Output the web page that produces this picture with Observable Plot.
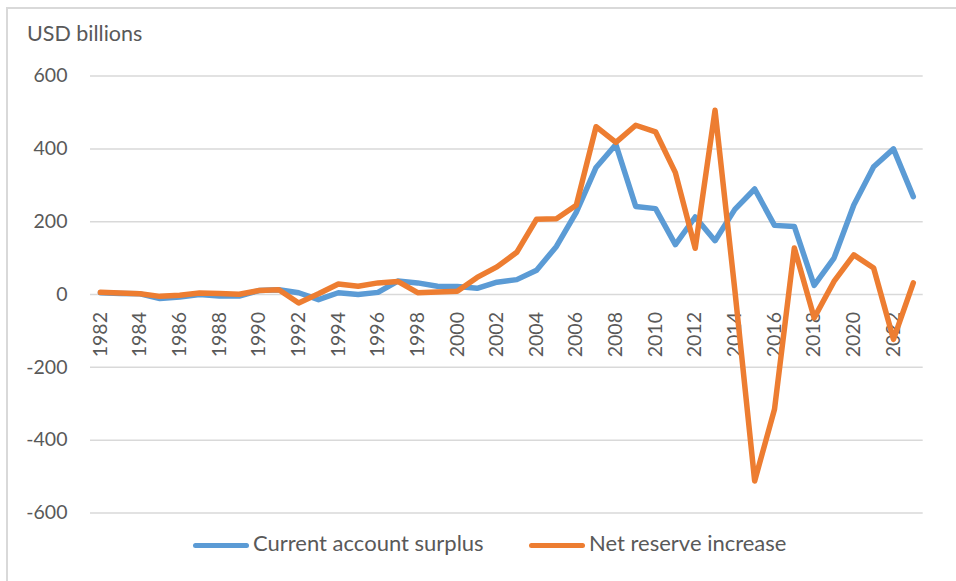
<!DOCTYPE html>
<html>
<head>
<meta charset="utf-8">
<script src="https://cdn.jsdelivr.net/npm/d3@7"></script>
<script src="https://cdn.jsdelivr.net/npm/@observablehq/plot@0.6"></script>
<style>
  body { margin: 0; background: #fff; font-family: Lato, "Open Sans", sans-serif; color: #595959; }
  #wrap { position: relative; width: 956px; height: 581px; overflow: hidden; background: #fff; }
  #frame { position: absolute; left: 6px; top: 7px; width: 1200px; height: 1200px;
           border-left: 2px solid #d9d9d9; border-top: 2px solid #d9d9d9; }
  #unit { position: absolute; left: 27px; top: 20.5px; font-size: 21.5px; line-height: 1.2; white-space: nowrap; }
  #chart { position: absolute; left: 0; top: 0; }
  .sw { position: absolute; height: 5px; border-radius: 2.5px; }
  .lt { position: absolute; font-size: 22px; line-height: 1.2; white-space: nowrap; }
</style>
</head>
<body>
<div id="wrap">
  <div id="frame"></div>
  <div id="chart"></div>
  <div id="unit">USD billions</div>
  <div id="legend"></div>
</div>
<script>
// ---- data ----
const years = [1982,1983,1984,1985,1986,1987,1988,1989,1990,1991,1992,1993,1994,1995,1996,1997,1998,1999,2000,2001,
               2002,2003,2004,2005,2006,2007,2008,2009,2010,2011,2012,2013,2014,2015,2016,2017,2018,2019,2020,2021,2022,2023];
const currentAccountSurplus = [5,3,2,-11,-7,0,-4,-4,11,13,5,-14,5,0,6,37,32,23,22,17,
                               34,41,67,132,226,349,412,242,236,137,213,148,234,290,190,187,25,100,246,351,400,269];
const netReserveIncrease = [6,4,2,-5,-2,4,3,1,11,13,-23,2,29,23,32,36,5,7,9,47,
                            76,116,207,208,245,461,418,465,447,335,127,506,12,-512,-315,128,-64,36,109,73,-123,32];
const seriesNames = ["Current account surplus", "Net reserve increase"];
const seriesColors = ["#5B9BD5", "#ED7D31"];
const yTicks = [600, 400, 200, 0, -200, -400, -600];
const xTickLabels = [1982,1984,1986,1988,1990,1992,1994,1996,1998,2000,2002,2004,2006,2008,2010,2012,2014,2016,2018,2020,2022];
const unitLabel = "USD billions";

// ---- build tables ----
const caRows = years.map((y, i) => ({year: y, value: currentAccountSurplus[i]}));
const nrRows = years.map((y, i) => ({year: y, value: netReserveIncrease[i]}));
const xMin = years[0] - 0.5, xMax = years[years.length - 1] + 0.5;

const chart = Plot.plot({
  width: 956,
  height: 530,
  marginLeft: 90,
  marginRight: 33.3,
  marginTop: 75.6,
  marginBottom: 17.5,
  x: {domain: [xMin, xMax], axis: null},
  y: {domain: [-600, 600], axis: null},
  style: {fontFamily: "Lato, 'Open Sans', sans-serif", background: "transparent", overflow: "visible", color: "#595959"},
  marks: [
    Plot.ruleY(yTicks, {y: d => d, x1: xMin, x2: xMax, stroke: "#d9d9d9", strokeWidth: 1.5}),
    Plot.text(yTicks, {x: xMin, y: d => d, text: d => String(d), textAnchor: "end", dx: -23,
                       fill: "#595959", fontSize: 19.5}),
    Plot.text(xTickLabels, {x: d => d, y: 0, text: d => String(d), rotate: -90, textAnchor: "end",
                            dy: 17.5, fill: "#595959", fontSize: 19.5}),
    Plot.line(caRows, {x: "year", y: "value", stroke: seriesColors[0], strokeWidth: 5.5,
                       strokeLinejoin: "round", strokeLinecap: "round"}),
    Plot.line(nrRows, {x: "year", y: "value", stroke: seriesColors[1], strokeWidth: 5.5,
                       strokeLinejoin: "round", strokeLinecap: "round"})
  ]
});
document.getElementById("chart").appendChild(chart);
document.getElementById("unit").textContent = unitLabel;

// ---- legend ----
const legend = document.getElementById("legend");
const legendX = [193, 529];
seriesNames.forEach((name, i) => {
  const sw = document.createElement("div");
  sw.className = "sw";
  sw.style.left = legendX[i] + "px";
  sw.style.top = "543.2px";
  sw.style.width = "56px";
  sw.style.background = seriesColors[i];
  legend.appendChild(sw);
  const t = document.createElement("div");
  t.className = "lt";
  t.style.left = (legendX[i] + 60) + "px";
  t.style.top = "530px";
  t.textContent = name;
  legend.appendChild(t);
});
</script>
</body>
</html>
